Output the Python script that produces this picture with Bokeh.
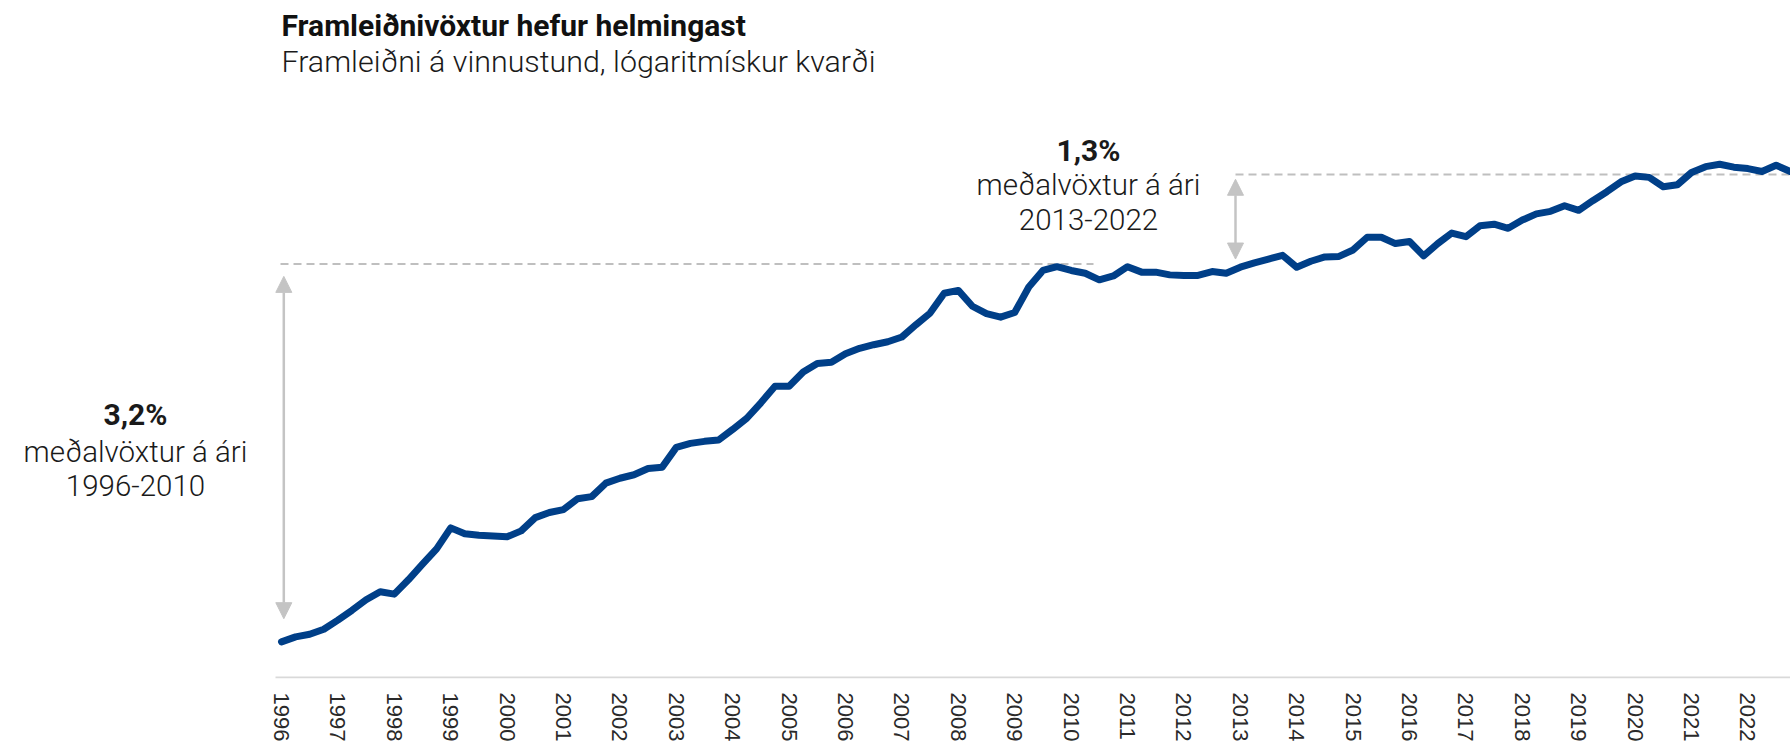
import math
from bokeh.plotting import figure
from bokeh.models import Range1d, FixedTicker, Arrow, NormalHead
from bokeh.core.properties import value
from bokeh.embed import file_html
from bokeh.resources import INLINE

# ---------------- data ----------------
start_year = 1996
# Labour productivity per hour worked, quarterly 1996Q1-2022Q4 (index)
productivity = [
    100.0, 100.6, 100.9, 101.5,   # 1996
    102.6, 103.8, 105.1, 106.1,   # 1997
    105.8, 107.6, 109.6, 111.6,   # 1998
    114.4, 113.6, 113.4, 113.3,   # 1999
    113.2, 114.0, 115.8, 116.5,   # 2000
    116.9, 118.4, 118.7, 120.6,   # 2001
    121.3, 121.8, 122.7, 122.9,   # 2002
    125.8, 126.4, 126.7, 126.9,   # 2003
    128.5, 130.2, 132.6, 135.2,   # 2004
    135.2, 137.5, 138.9, 139.1,   # 2005
    140.5, 141.4, 142.0, 142.5,   # 2006
    143.3, 145.4, 147.4, 150.9,   # 2007
    151.4, 148.6, 147.3, 146.7,   # 2008
    147.5, 152.0, 155.0, 155.7,   # 2009
    155.0, 154.5, 153.3, 154.0,   # 2010
    155.7, 154.7, 154.7, 154.2,   # 2011
    154.1, 154.1, 154.8, 154.5,   # 2012
    155.6, 156.4, 157.1, 157.8,   # 2013
    155.6, 156.7, 157.5, 157.6,   # 2014
    158.8, 161.2, 161.2, 160.0,   # 2015
    160.4, 157.7, 160.0, 162.0,   # 2016
    161.3, 163.4, 163.7, 162.9,   # 2017
    164.5, 165.7, 166.2, 167.3,   # 2018
    166.4, 168.3, 170.1, 172.1,   # 2019
    173.3, 173.0, 171.1, 171.5,   # 2020
    174.0, 175.2, 175.7, 175.1,   # 2021
    174.8, 174.2, 175.5, 174.2,   # 2022
]
quarters = [(start_year + i // 4, i % 4 + 1) for i in range(len(productivity))]
x_quarters = [y + (q - 1) / 4 for (y, q) in quarters]

tick_years = list(range(1996, 2023))
tick_labels = [str(y) for y in tick_years]

# average-growth levels (index) and periods
level_1996_2010 = 156.2
level_2013_2022 = 173.6
ann_left = ["3,2%", "meðalvöxtur á ári", "1996-2010"]
ann_right = ["1,3%", "meðalvöxtur á ári", "2013-2022"]
title_text = "Framleiðnivöxtur hefur helmingast"
subtitle_text = "Framleiðni á vinnustund, lógaritmískur kvarði"

# ---------------- layout helpers (canvas pixel -> data) ----------------
PX_PER_YEAR = 56.4
X0_PX = 281.0          # x of 1996Q1
Y0_PX = 643.3          # y of index 100
PX_PER_LN = 850.0


def X(px):
    return 1996 + (px - X0_PX) / PX_PER_YEAR


def Y(py):
    return 100.0 * math.exp((Y0_PX - py) / PX_PER_LN)


W, H = 1790, 744
FRAME_BOTTOM = 680

p = figure(width=W, height=H,
           x_range=Range1d(X(0), X(W)),
           y_range=Range1d(Y(FRAME_BOTTOM), Y(0)),
           y_axis_type="log", y_axis_location=None,
           output_backend="svg", toolbar_location=None,
           min_border=0, min_border_bottom=H - FRAME_BOTTOM)
p.xgrid.visible = False
p.ygrid.visible = False
p.outline_line_color = None
p.background_fill_color = "white"
p.border_fill_color = "white"

ax = p.xaxis[0]
ax.ticker = FixedTicker(ticks=tick_years)
ax.major_label_overrides = {y: l for y, l in zip(tick_years, tick_labels)}
ax.major_label_orientation = "vertical"
ax.axis_line_color = None
ax.major_tick_line_color = None
ax.minor_tick_line_color = None
ax.major_tick_out = 0
ax.major_tick_in = 0
ax.minor_tick_out = 0
ax.major_label_standoff = 14
ax.major_label_text_font = "Liberation Sans"
ax.major_label_text_font_size = "22px"
ax.major_label_text_color = "#2a2a2a"

# axis baseline
p.line([X(275), X(W)], [Y(679), Y(679)], line_color="#d9d9d9", line_width=2)

# dashed reference levels
GRAY = "#bfbfbf"
p.line([X(280), X(1093)], [level_1996_2010] * 2, line_color=GRAY, line_width=2, line_dash="8 5")
p.line([X(1235), X(W)], [level_2013_2022] * 2, line_color=GRAY, line_width=2, line_dash="8 5")

# double arrows
ARROW = "#c4c4c4"
for xs, y_lo, y_hi in [(X(283.3), Y(620), Y(276.7)), (X(1235), Y(259.3), Y(179.3))]:
    p.add_layout(Arrow(start=NormalHead(size=16, fill_color=ARROW, line_color=ARROW, line_width=1),
                       end=NormalHead(size=16, fill_color=ARROW, line_color=ARROW, line_width=1),
                       x_start=xs, y_start=y_lo, x_end=xs, y_end=y_hi,
                       line_color=ARROW, line_width=2.5))

# main series
p.line(x_quarters, productivity, line_color="#003F88", line_width=7,
       line_cap="round", line_join="round")

# annotations
BODY_FONT = value("Roboto Light")
TXT = "#1a1a1a"
for cx, ys, texts in [(135, (415, 452.7, 486), ann_left), (1088, (150, 185, 220), ann_right)]:
    p.text(x=[X(cx)], y=[Y(ys[0])], text=[texts[0]], text_font=value("Roboto"),
           text_font_style="bold", text_font_size="30px", text_align="center",
           text_baseline="middle", text_color=TXT)
    p.text(x=[X(cx), X(cx)], y=[Y(ys[1]), Y(ys[2])], text=texts[1:], text_font=BODY_FONT,
           text_font_size="29.5px", text_align="center", text_baseline="middle", text_color=TXT)

# title & subtitle
p.text(x=[X(281)], y=[Y(25)], text=[title_text], text_font=value("Roboto"),
       text_font_style="bold", text_font_size="30px", text_align="left",
       text_baseline="middle", text_color="#111111")
p.text(x=[X(281)], y=[Y(61)], text=[subtitle_text], text_font=BODY_FONT,
       text_font_size="30.4px", text_align="left", text_baseline="middle", text_color=TXT)

open("out.html", "w").write(file_html(p, INLINE))
